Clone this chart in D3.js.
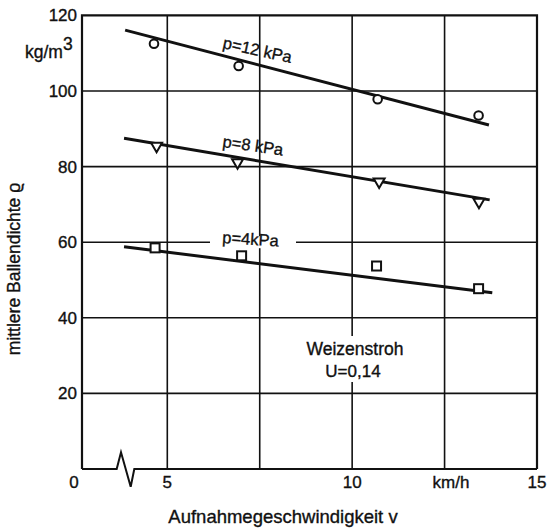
<!DOCTYPE html>
<html><head><meta charset="utf-8">
<script src="https://cdn.jsdelivr.net/npm/d3@7/dist/d3.min.js"></script>
<style>
html,body{margin:0;padding:0;background:#fff;}
svg text{font-family:"Liberation Sans",Arial,sans-serif;fill:#111;stroke:#111;stroke-width:0.35px;}
</style></head>
<body>
<svg id="chart" width="547" height="528"></svg>
<script>
// ---- data ----
const yTicks = [0, 20, 40, 60, 80, 100, 120];
const xTicks = [5, 10, 15];
const xGrid = [5, 7.5, 10, 12.5];
const xTickLabels = ["5", "10", "15"];

const speedP12 = [4.64, 6.93, 10.69, 13.42];
const densP12  = [112.5, 106.6, 97.8, 93.5];
const speedP8  = [4.71, 6.90, 10.73, 13.43];
const densP8   = [85.4, 81.0, 75.9, 70.6];
const speedP4  = [4.67, 7.01, 10.66, 13.42];
const densP4   = [58.5, 56.4, 53.7, 47.7];

const fitP12 = [[3.86, 116.1], [13.70, 91.0]];
const fitP8  = [[3.83, 87.5], [13.72, 71.2]];
const fitP4  = [[3.83, 58.8], [13.79, 46.6]];

const seriesLabels = ["p=12 kPa", "p=8 kPa", "p=4kPa"];

// ---- layout ----
const svg = d3.select("#chart");
const L = 82, R = 537, T = 15.4, B = 469;
const x = d3.scaleLinear().domain([5, 15]).range([167.3, 537]);
const y = d3.scaleLinear().domain([0, 120]).range([B, T]);
const ink = "#111";

// grid
const g = svg.append("g");
g.selectAll("line.h").data(yTicks.filter(d => d > 0 && d < 120)).join("line")
  .attr("x1", L).attr("x2", R).attr("y1", d => y(d)).attr("y2", d => y(d))
  .attr("stroke", ink).attr("stroke-width", 1.6);
g.selectAll("line.v").data(xGrid).join("line")
  .attr("x1", d => x(d)).attr("x2", d => x(d)).attr("y1", T).attr("y2", B)
  .attr("stroke", ink).attr("stroke-width", 1.6);

// white knockouts behind labels
svg.append("rect").attr("x", 210).attr("y", y(60) - 6).attr("width", 86).attr("height", 12).attr("fill", "#fff");
svg.append("rect").attr("x", 300).attr("y", 336).attr("width", 110).attr("height", 46).attr("fill", "#fff");

// frame
svg.append("path")
  .attr("d", `M${L},${B} L${L},${T} L${R},${T} L${R},${B}`)
  .attr("fill", "none").attr("stroke", ink).attr("stroke-width", 2.2);
// bottom axis with break
svg.append("path")
  .attr("d", `M${L},${B} L116.7,${B} L121,452.3 L130.7,486.7 L134.3,${B} L${R},${B}`)
  .attr("fill", "none").attr("stroke", ink).attr("stroke-width", 2).attr("stroke-linejoin", "miter");

// y tick labels
svg.selectAll("text.yt").data(yTicks.filter(d => d > 0)).join("text")
  .attr("x", 77).attr("y", d => y(d) + 6)
  .attr("text-anchor", "end").attr("font-size", 17).text(d => d);
// y unit
const unit = svg.append("text").attr("x", 25).attr("y", 58).attr("font-size", 17.5);
unit.append("tspan").text("kg/m");
unit.append("tspan").attr("dy", -8).text("3");

// x tick labels
svg.append("text").attr("x", 74).attr("y", 488).attr("text-anchor", "middle").attr("font-size", 17).text("0");
svg.selectAll("text.xt").data(xTicks).join("text")
  .attr("x", d => x(d)).attr("y", 488).attr("text-anchor", "middle").attr("font-size", 17)
  .text((d, i) => xTickLabels[i]);
svg.append("text").attr("x", 451).attr("y", 488).attr("text-anchor", "middle").attr("font-size", 17).text("km/h");

// axis titles
svg.append("text").attr("x", 283).attr("y", 523).attr("text-anchor", "middle").attr("font-size", 18.5)
  .text("Aufnahmegeschwindigkeit v");
svg.append("text").attr("transform", "translate(20,269) rotate(-90)").attr("text-anchor", "middle")
  .attr("font-size", 17.5).text("mittlere Ballendichte ϱ");

// fit lines
const line = d3.line().x(d => x(d[0])).y(d => y(d[1]));
[fitP12, fitP8, fitP4].forEach(f => {
  svg.append("path").attr("d", line(f)).attr("fill", "none").attr("stroke", ink).attr("stroke-width", 3);
});

// markers
const ptsP12 = speedP12.map((s, i) => [s, densP12[i]]);
const ptsP8 = speedP8.map((s, i) => [s, densP8[i]]);
const ptsP4 = speedP4.map((s, i) => [s, densP4[i]]);

svg.selectAll("circle.m").data(ptsP12).join("circle")
  .attr("cx", d => x(d[0])).attr("cy", d => y(d[1])).attr("r", 4.3)
  .attr("fill", "#fff").attr("stroke", ink).attr("stroke-width", 2);
svg.selectAll("path.tri").data(ptsP8).join("path")
  .attr("d", d => { const cx = x(d[0]), cy = y(d[1]); return `M${cx-5.5},${cy-3.5} L${cx+5.5},${cy-3.5} L${cx},${cy+6} Z`; })
  .attr("fill", "#fff").attr("stroke", ink).attr("stroke-width", 2);
svg.selectAll("rect.sq").data(ptsP4).join("rect")
  .attr("x", d => x(d[0]) - 4.5).attr("y", d => y(d[1]) - 4.5).attr("width", 9).attr("height", 9)
  .attr("fill", "#fff").attr("stroke", ink).attr("stroke-width", 2);

// series labels
const labelPos = [[222, 48, 12.3], [222, 147, 8], [222, 243, 3.5]];
seriesLabels.forEach((t, i) => {
  const [lx, ly, rot] = labelPos[i];
  svg.append("text").attr("transform", `translate(${lx},${ly}) rotate(${rot})`)
    .attr("font-size", 16.5).text(t);
});

// annotation
svg.append("text").attr("x", 355).attr("y", 355).attr("text-anchor", "middle").attr("font-size", 17.5).text("Weizenstroh");
svg.append("text").attr("x", 353).attr("y", 377).attr("text-anchor", "middle").attr("font-size", 17).text("U=0,14");
</script>
</body></html>
